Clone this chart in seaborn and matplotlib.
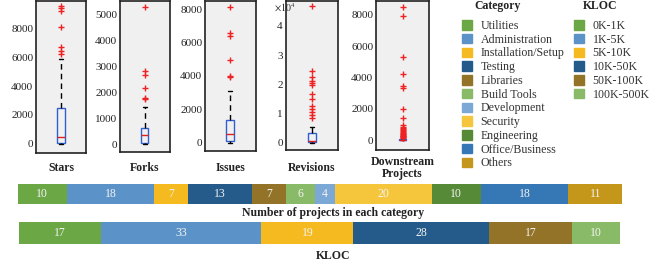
import matplotlib
matplotlib.use("Agg")
import matplotlib.pyplot as plt
from matplotlib.patches import Patch
import seaborn as sns
import pandas as pd

# --- data ---
stars = [0, 5, 10, 20, 30, 40, 45, 50, 60, 65, 70,
         100, 130, 170, 210, 260, 300, 350, 400, 440, 480,
         600, 750, 900, 1100, 1300, 1500, 1750, 2000, 2250, 2500,
         3400, 4600, 5880, 6230, 6410, 6670, 8070, 9150, 9380, 9540]
forks = [0, 10, 20, 30, 35, 40, 45, 50, 55, 58, 60,
         90, 120, 160, 200, 240, 270, 300, 320, 340, 360,
         390, 420, 450, 480, 510, 540, 570, 600, 620, 640,
         700, 820, 1050, 1420, 1740, 1790, 2180, 2650, 2830, 5290]
issues = [0, 10, 20, 30, 40, 50, 60, 70, 80, 90, 100,
          150, 200, 250, 300, 350, 400, 440, 480, 510, 540,
          600, 680, 760, 840, 920, 1000, 1080, 1160, 1250, 1350,
          1600, 2000, 2500, 3100, 3915, 3975, 4950, 6390, 6550, 8110]
revisions = [0, 5, 10, 15, 20, 25, 30, 40, 50, 60, 70, 75, 80, 90, 100,
             130, 160, 200, 240, 280, 320, 360, 400, 450, 500, 550, 600, 650, 700,
             900, 1100, 1300, 1500, 1700, 1900, 2100, 2300, 2500, 2700, 2900, 3100, 3250, 3400,
             5500, 8600, 9500, 10600, 11600, 12600, 15000, 16600, 19800, 20300, 21100,
             22400, 24600, 46900]
downstream = ([0] * 26 +
              [1, 2, 3, 4, 5, 6, 7, 8, 9, 10, 11, 12, 13, 14, 15, 15, 16, 16, 17, 17,
               18, 18, 19, 19, 20] +
              [22, 24, 26, 28, 30, 32, 34, 36, 38, 40, 42, 44, 46, 48, 50, 51, 52, 53,
               54, 55, 56, 57, 58, 59, 60] +
              [120, 160, 180, 210, 250, 290, 330, 380, 430, 480, 540, 600, 650, 720,
               800, 870, 975, 1400, 1975, 3310, 3480, 4200, 5290, 7940, 8510])

categories = ["Utilities", "Administration", "Installation/Setup", "Testing", "Libraries",
              "Build Tools", "Development", "Security", "Engineering", "Office/Business", "Others"]
category_counts = [10, 18, 7, 13, 7, 6, 4, 20, 10, 18, 11]
category_colors = ["#6ca746", "#5b93c9", "#f4ba1f", "#245b8a", "#927327", "#89ba67",
                   "#7ba8d5", "#f5c63c", "#578a37", "#3677b5", "#c4971a"]

kloc_bins = ["0K-1K", "1K-5K", "5K-10K", "10K-50K", "50K-100K", "100K-500K"]
kloc_counts = [17, 33, 19, 28, 17, 10]
kloc_colors = ["#6ca746", "#5b93c9", "#f4ba1f", "#245b8a", "#927327", "#89ba67"]

sns.set_style("white")
plt.rcParams["font.family"] = ["Liberation Serif", "DejaVu Serif"]
plt.rcParams["mathtext.fontset"] = "stix"

W, H = 667, 269
fig = plt.figure(figsize=(W / 100, H / 100), dpi=100)


def px_rect(x0, y0, x1, y1):
    return [x0 / W, 1 - y1 / H, (x1 - x0) / W, (y1 - y0) / H]


# --- box plots ---
panels = [
    (stars, "Stars", (36, 0.5, 86, 153), (-621, 9897), range(0, 8001, 2000), 1),
    (forks, "Forks", (120, 0.5, 169.5, 151.5), (-277, 5531), range(0, 5001, 1000), 1),
    (issues, "Issues", (205, 0.5, 255.5, 150.7), (-479, 8510), range(0, 8001, 2000), 1),
    (revisions, "Revisions", (285.5, 1, 338, 150), (-0.25, 4.856), range(0, 5), 1e4),
    (downstream, "Downstream\nProjects", (376, 1, 429, 150), (-618, 8873), range(0, 8001, 2000), 1),
]

for values, label, rect, ylim, ticks, scale in panels:
    ax = fig.add_axes(px_rect(*rect))
    df = pd.DataFrame({"value": [v / scale for v in values]})
    sns.boxplot(data=df, y="value", ax=ax, width=0.15, whis=1.5,
                boxprops={"facecolor": "none", "edgecolor": "#2f5fd0", "linewidth": 1},
                medianprops={"color": "#e02020", "linewidth": 1},
                whiskerprops={"color": "black", "linestyle": (0, (4, 3)), "linewidth": 1},
                capprops={"color": "black", "linewidth": 1},
                flierprops={"marker": "+", "markeredgecolor": "#ee2222",
                            "markersize": 5, "markeredgewidth": 1})
    ax.set_facecolor("#f0f0f0")
    ax.set_xlim(-0.5, 0.5)
    ax.set_ylim(*ylim)
    ax.set_yticks(list(ticks))
    ax.set_xticks([])
    ax.set_xlabel("")
    ax.set_ylabel("")
    ax.tick_params(axis="y", direction="in", length=2, pad=2, labelsize=8, colors="#222222")
    for sp in ax.spines.values():
        sp.set_color("#222222")
        sp.set_linewidth(1.2)
    cx = (rect[0] + rect[2]) / 2
    fig.text(cx / W, 1 - 168 / H, label, ha="center", va="center",
             fontsize=8.5, fontweight="bold", linespacing=1.05, color="#222222")
    if scale != 1:
        fig.text((rect[0] - 12) / W, 1 - 8 / H, r"$\times10^{4}$", ha="left", va="center",
                 fontsize=7, color="#222222")


# --- stacked horizontal bars ---
def stacked_bar(rect, names, counts, colors):
    ax = fig.add_axes(px_rect(*rect))
    ends = pd.Series(counts).cumsum().tolist()
    df = pd.DataFrame({"name": names, "end": ends, "row": ["r"] * len(names)})
    sns.barplot(data=df, x="end", y="row", hue="name", hue_order=names[::-1],
                palette=dict(zip(names, colors)), dodge=False, width=1, saturation=1,
                orient="h", legend=False, linewidth=0, ax=ax)
    start = 0
    for n in counts:
        ax.text(start + n / 2, 0, str(n), ha="center", va="center",
                fontsize=8.5, color="#f4f4f4")
        start += n
    ax.set_xlim(0, sum(counts))
    ax.set_ylim(0.5, -0.5)
    ax.axis("off")


stacked_bar((18, 184, 622, 204), categories, category_counts, category_colors)
stacked_bar((19, 222, 620, 244), kloc_bins, kloc_counts, kloc_colors)

fig.text(333 / W, 1 - 213 / H, "Number of projects in each category", ha="center", va="center",
         fontsize=8.5, fontweight="bold", color="#222222")
fig.text(333 / W, 1 - 256 / H, "KLOC", ha="center", va="center",
         fontsize=8.5, fontweight="bold", color="#222222")

# --- legends ---
legend_kw = dict(loc="upper left", frameon=False, fontsize=8.6, borderpad=0, borderaxespad=0,
                 handlelength=0.85, handleheight=0.85, handletextpad=0.7, labelspacing=0.146,
                 labelcolor="#333333")
fig.legend([Patch(color=c) for c in category_colors], categories,
           bbox_to_anchor=(462 / W, 1 - 20 / H), **legend_kw)
fig.legend([Patch(color=c) for c in kloc_colors], kloc_bins,
           bbox_to_anchor=(574 / W, 1 - 20 / H), **legend_kw)
fig.text(474 / W, 1 - 6 / H, "Category", ha="left", va="center",
         fontsize=8.5, fontweight="bold", color="#222222")
fig.text(583 / W, 1 - 6 / H, "KLOC", ha="left", va="center",
         fontsize=8.5, fontweight="bold", color="#222222")

fig.savefig("out.png", dpi=100)
